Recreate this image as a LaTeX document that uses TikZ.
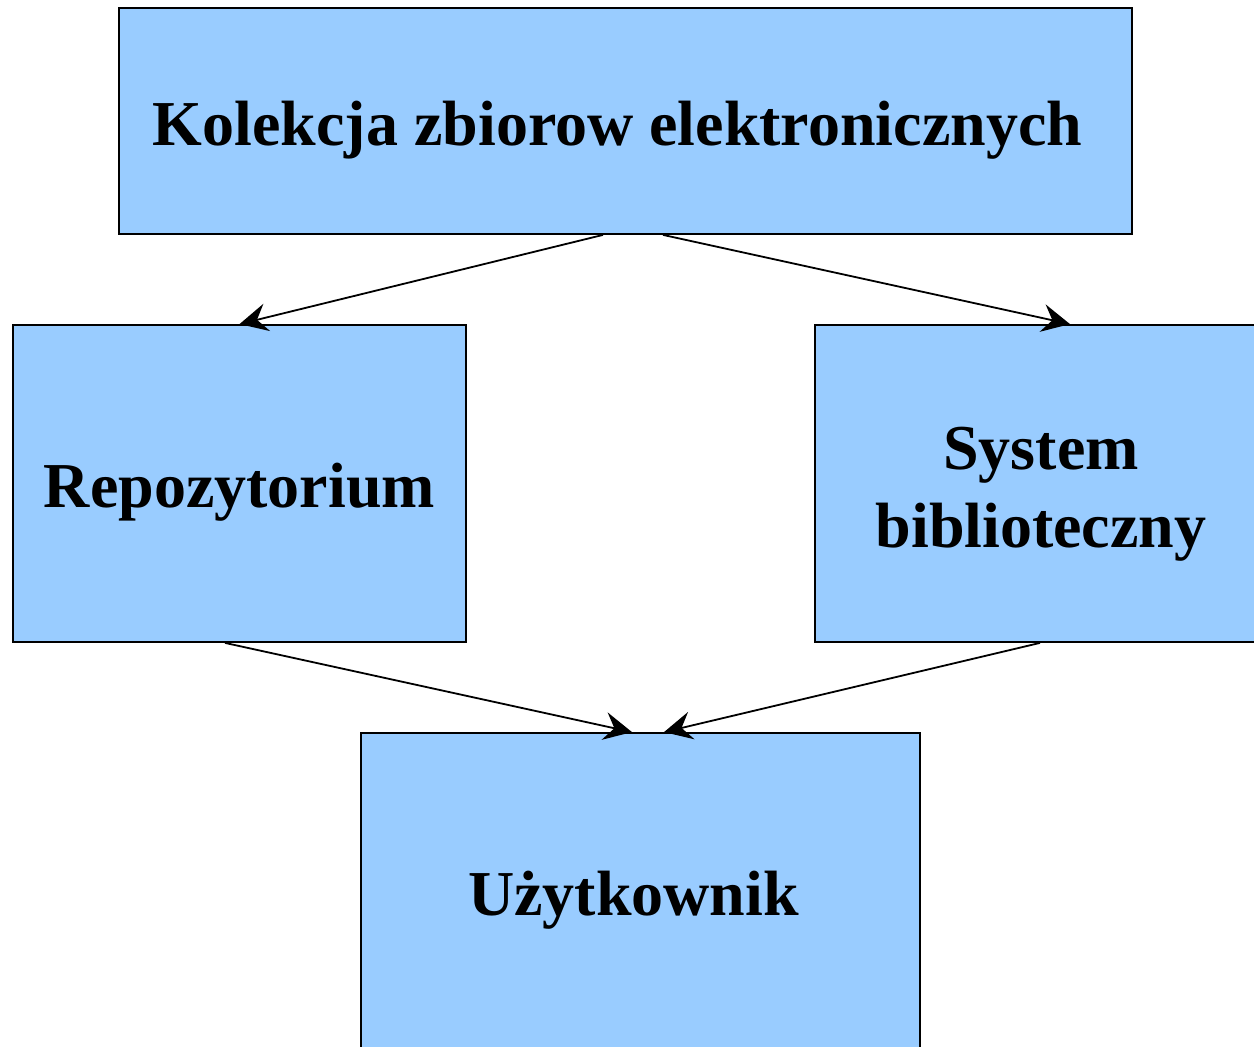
\documentclass[tikz,border=0pt]{standalone}
\usepackage{fontspec}
\setmainfont{Liberation Serif}
\usetikzlibrary{arrows.meta}
\definecolor{boxblue}{HTML}{99CCFF}
\begin{document}
\begin{tikzpicture}[x=1pt,y=-1pt,
  box/.style={draw=black, line width=1.8pt, fill=boxblue, inner sep=0pt},
  lbl/.style={inner sep=0pt, align=center, font=\fontsize{64}{78}\selectfont\bfseries},
  conn/.style={line width=1.8pt, -{Stealth[length=28pt,width=28pt,inset=10pt]}}]
\useasboundingbox (0,0) rectangle (1254,1047);
\clip (0,0) rectangle (1254,1047);
\node[box, minimum width=1013pt, minimum height=226pt] (top) at (625.5,121) {};
\node[box, minimum width=453pt, minimum height=317pt] (left) at (239.5,483.5) {};
\node[box, minimum width=452pt, minimum height=317pt] (right) at (1041,483.5) {};
\node[box, minimum width=559pt, minimum height=324pt] (user) at (640.5,895) {};
\node[lbl] (toptxt) at ([yshift=-9pt,xshift=-8pt]top.center) {Kolekcja zbiorow elektronicznych};
\node[lbl] (lefttxt) at ([yshift=-9pt]left.center) {Repozytorium};
\node[lbl] (righttxt) at ([yshift=-11pt]right.center) {System\\biblioteczny};
\node[lbl] (usertxt) at ([xshift=-7pt,yshift=-5pt]user.center) {Użytkownik};
\draw[conn] ([xshift=-22.5pt]top.south) -- (left.north);
\draw[conn] ([xshift=37.5pt]top.south) -- ([xshift=29pt]right.north);
\draw[conn] ([xshift=-14.5pt]left.south) -- ([xshift=-8.5pt]user.north);
\draw[conn] ([xshift=-1pt]right.south) -- ([xshift=23.5pt]user.north);
\end{tikzpicture}
\end{document}
